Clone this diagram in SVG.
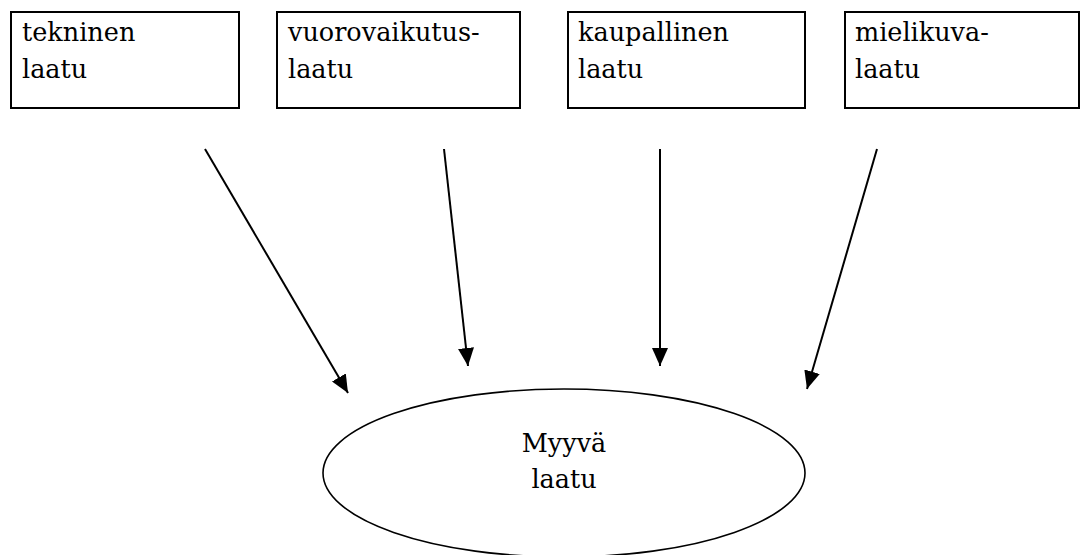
<svg xmlns="http://www.w3.org/2000/svg" width="1082" height="555" viewBox="0 0 1082 555">
  <style>
    .box { fill: #fff; stroke: #000; stroke-width: 2; }
    .oval { fill: #fff; stroke: #000; stroke-width: 1.6; }
    .lbl { font-family: 'DejaVu Serif', serif; font-size: 25.5px; fill: #000; }
    .mid { text-anchor: middle; }
    .edge { stroke: #000; stroke-width: 2; fill: none; marker-end: url(#head); }
  </style>
  <defs>
    <marker id="head" markerUnits="userSpaceOnUse" markerWidth="18" markerHeight="16" refX="18" refY="8" orient="auto">
      <path d="M0,0 L18,8 L0,16 z" fill="#000"/>
    </marker>
  </defs>
  <rect width="1082" height="555" fill="#fff"/>

  <g id="tekninen">
    <rect class="box" x="11" y="12" width="228" height="96"/>
    <text class="lbl" x="22" y="41">tekninen</text>
    <text class="lbl" x="22" y="78">laatu</text>
  </g>
  <g id="vuorovaikutus">
    <rect class="box" x="277" y="12" width="243" height="96"/>
    <text class="lbl" x="288" y="41">vuorovaikutus-</text>
    <text class="lbl" x="288" y="78">laatu</text>
  </g>
  <g id="kaupallinen">
    <rect class="box" x="568" y="12" width="237" height="96"/>
    <text class="lbl" x="578" y="41">kaupallinen</text>
    <text class="lbl" x="578" y="78">laatu</text>
  </g>
  <g id="mielikuva">
    <rect class="box" x="845" y="12" width="234" height="96"/>
    <text class="lbl" x="855" y="41">mielikuva-</text>
    <text class="lbl" x="855" y="78">laatu</text>
  </g>

  <g id="myyva">
    <ellipse class="oval" cx="564" cy="473" rx="241" ry="84"/>
    <text class="lbl mid" x="564" y="452">Myyvä</text>
    <text class="lbl mid" x="564" y="488">laatu</text>
  </g>

  <g id="connectors">
    <line class="edge" x1="205" y1="149" x2="348" y2="393"/>
    <line class="edge" x1="444" y1="149" x2="468" y2="366"/>
    <line class="edge" x1="660" y1="149" x2="660" y2="366"/>
    <line class="edge" x1="877" y1="149" x2="807" y2="389"/>
  </g>
</svg>
